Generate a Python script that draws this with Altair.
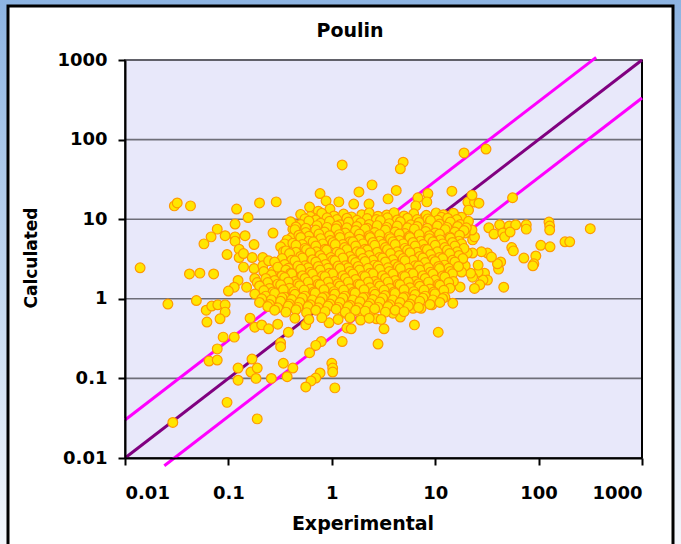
import altair as alt
import pandas as pd

# ---------------- data ----------------
upper_left = [(0.030,14.7),(0.032,16.0),(0.043,14.7),(0.12,13.4),(0.2,16.0),(0.29,16.5),(0.155,10.5),
    (0.116,8.7),(0.078,7.5),(0.068,6.0),(0.058,4.9),(0.093,6.2),(0.116,6.0),(0.116,5.3),(0.145,6.2),
    (0.27,6.7),(0.177,4.8),(0.097,3.6),(0.127,4.2),(0.127,3.3),(0.14,3.7),(0.17,3.3),(0.14,2.5),
    (0.177,2.4),(0.215,3.3),(0.215,2.6),(0.245,3.0),(0.27,2.2),(0.22,2.2),(0.3,2.8),(0.33,2.8),
    (0.014,2.45),(0.042,2.05),(0.053,2.1),(0.072,2.05),(0.124,1.7),(0.114,1.4),(0.1,1.25),(0.15,1.4),
    (0.18,1.8),(0.19,1.6),(0.215,1.5),(0.33,1.9),(0.41,1.9),(0.42,2.1),(0.3,1.35),(0.34,1.2),
    (0.026,0.86),(0.049,0.95),(0.45,8.5),(0.42,7.5),(0.41,5.9),(0.37,5.5),(0.35,4.9),(0.32,4.5),
    (0.34,3.9),(0.46,4.5),(0.46,3.3)]

lower_left = [(0.061,0.72),(0.069,0.81),(0.079,0.84),(0.093,0.84),(0.093,0.68),(0.083,0.56),(0.062,0.51),
    (0.089,0.33),(0.114,0.33),(0.078,0.235),(0.065,0.165),(0.078,0.17),(0.029,0.028),(0.097,0.05),
    (0.19,0.031),(0.124,0.135),(0.124,0.095),(0.169,0.175),(0.165,0.12),(0.19,0.135),(0.185,0.1),
    (0.26,0.1),(0.34,0.155),(0.42,0.135),(0.37,0.105),(0.32,0.28),(0.32,0.25),(0.38,0.38),
    (0.162,0.57),(0.18,0.44),(0.21,0.47),(0.245,0.42),(0.30,0.48)]

lower_mid = [(3.2,0.42),(2.8,0.27),(10.7,0.38),(6.3,0.47),(9.3,0.84),(14.8,0.88),(1.26,0.29),(1.4,0.43),
    (1.54,0.42),(0.79,0.29),(0.7,0.26),(0.61,0.21),(0.77,0.117),(0.7,0.101),(0.63,0.093),(0.56,0.078),
    (1.0,0.155),(1.02,0.135),(1.02,0.12),(1.07,0.076),(2.7,0.56),(4.6,0.59),(3.9,0.66),(6.1,0.76),
    (7.3,0.76),(0.94,0.5),(0.56,0.47),(1.34,0.66),(1.87,0.66),(2.34,0.68),(2.0,0.6)]

upper_mid = [(1.26,48),(4.9,52),(4.6,43),(19,68),(31,76),(2.45,27),(1.83,22),(4.2,23),(3.5,18),(0.77,21),
    (0.88,17),(1.17,16.5),(0.96,13.4),(0.61,14.2),(0.74,12.6),(0.67,10.3),(1.63,15.5),(2.29,15.5),
    (8.5,21),(8.3,16.5),(6.8,18.6),(6.5,14.7),(7.9,10.6),(9.7,10.6),(13,10.6),(14.5,22.5),(17,10.6)]

right_side = [(56,18.6),(126,9.2),(128,8.2),(128,7.3),(316,7.6),(180,5.2),(200,5.2),(105,4.7),(129,4.5),
    (94,3.45),(72,3.25),(90,2.75),(88,2.6),(55,4.4),(57,4.0),(46,1.4),(43,2.9),(41,2.36),(40,2.75),
    (33,7.8),(37,6.5),(42,8.5),(52,8.2),(60,8.5),(76,8.5),(76,7.5),(45,6.7),(47,6.0),(53,6.9),
    (32,3.76),(35,3.35),(28,3.9),(23,3.76),(30,2.1),(32,1.72),(29,1.72),(26,2.17),(23,1.87),(22,2.1),
    (19.5,2.6),(18,2.17),(26,2.65),(20.4,3.76),(23,5.5),(24,6.0),(22.7,7.3),(20.4,8.9),(18,10.6),
    (20.7,16.4),(21,13),(24,16.4),(26.5,15.9),(22.7,20),(19.5,6.7),(17.4,1.41),(27,1.5),(24,1.35)]

core_10 = [(0.5,11.5),(0.62,10.8),(0.8,11.9),(1.05,11.0),(1.3,11.6),(1.55,10.7),(1.95,11.4),(2.3,12.0),
    (2.8,10.9),(3.4,11.3),(4.0,12.1),(5.0,11.0),(6.2,11.7),(8.2,11.2),(10.2,12.0),(12.0,11.4),(15.0,11.9),
    (11.5,10.6),
    (0.55,10.1),(0.7,9.8),(0.9,10.4),(1.12,9.9),(1.4,10.3),(1.75,9.7),(2.2,10.2),(2.7,9.9),(3.45,10.4),
    (4.3,9.8),(5.4,10.3),(6.7,9.9),(8.5,10.1),(10.6,9.7),(13.2,10.3),(16.2,9.9),
    (0.40,9.3),(0.5,8.6),(0.6,9.5),(0.78,8.9),(0.95,9.4),(1.2,8.5),(1.45,9.2),(1.9,9.0),(2.3,8.6),
    (2.95,9.6),(3.6,8.8),(4.6,9.3),(5.8,8.5),(7.0,9.1),(9.0,9.6),(11.0,8.7),(14.0,9.2),(17.5,8.6),(21.0,9.4),
    (0.45,8.0),(0.56,7.7),(0.72,8.3),(0.9,7.9),(1.12,8.2),(1.4,7.8),(1.75,8.1),(2.2,7.7),(2.75,8.3),
    (3.4,7.9),(4.3,8.2),(5.4,7.8),(6.7,8.1),(8.4,7.7),(10.5,8.2),(13.0,7.9),(16.5,8.1),(20,7.8)]

core_5 = [(0.44,7.4),(0.56,6.8),(0.7,7.3),(0.85,6.9),(1.1,7.6),(1.35,6.7),(1.7,7.2),(2.1,7.5),(2.6,6.8),
    (3.3,7.3),(4.1,6.9),(5.1,6.6),(6.3,7.5),(8.1,7.0),(10.0,6.7),(12.5,7.4),(15.5,6.9),(19.0,7.2),
    (0.48,6.3),(0.6,6.1),(0.75,6.5),(0.95,6.2),(1.18,6.4),(1.48,6.0),(1.85,6.5),(2.3,6.2),(2.9,6.4),
    (3.6,6.0),(4.5,6.5),(5.6,6.1),(7.0,6.4),(8.8,6.2),(11.0,6.5),(13.8,6.0),(17.2,6.3),
    (0.5,5.9),(0.6,5.3),(0.78,5.7),(0.97,5.4),(1.2,5.9),(1.5,5.2),(1.85,5.6),(2.35,5.9),(2.9,5.3),
    (3.7,5.7),(4.5,5.4),(5.7,5.9),(7.2,5.3),(8.8,5.7),(11.2,5.5),(14.0,5.8),(17.0,5.3),
    (0.42,5.0),(0.52,4.8),(0.66,5.2),(0.82,4.9),(1.03,5.1),(1.28,4.8),(1.6,5.2),(2.0,4.9),(2.5,5.1),
    (3.1,4.8),(3.9,5.2),(4.9,4.9),(6.1,5.1),(7.6,4.8),(9.5,5.2),(11.8,4.9),(14.7,5.1),(18,4.9),
    (0.45,4.7),(0.55,4.3),(0.7,4.6),(0.86,4.2),(1.08,4.8),(1.33,4.4),(1.7,4.6),(2.1,4.2),(2.6,4.7),
    (3.3,4.4),(4.1,4.8),(5.1,4.3),(6.4,4.6),(8.0,4.2),(10.0,4.7),(12.4,4.4),(15.5,4.6),(19.0,4.3)]

core_3 = [(0.36,4.0),(0.45,3.85),(0.57,4.15),(0.71,3.9),(0.89,4.1),(1.12,3.85),(1.4,4.15),(1.75,3.9),
    (2.2,4.1),(2.75,3.85),(3.45,4.15),(4.3,3.9),(5.4,4.1),(6.7,3.85),(8.4,4.15),(10.5,3.9),(13.1,4.1),(16.3,3.9),
    (0.39,3.7),(0.5,3.4),(0.62,3.8),(0.77,3.5),(0.98,3.3),(1.2,3.7),(1.5,3.4),(1.9,3.8),(2.3,3.5),
    (2.9,3.3),(3.7,3.7),(4.5,3.5),(5.7,3.8),(7.1,3.4),(9.0,3.6),(11.0,3.3),(13.8,3.7),(17.0,3.5),
    (0.33,3.2),(0.41,3.05),(0.52,3.25),(0.65,3.1),(0.81,3.2),(1.02,3.05),(1.28,3.25),(1.6,3.1),(2.0,3.2),
    (2.5,3.05),(3.1,3.25),(3.9,3.1),(4.9,3.2),(6.1,3.05),(7.6,3.25),(9.5,3.1),(11.8,3.2),(14.7,3.05),(18.5,3.2),
    (0.28,2.9),(0.35,2.7),(0.44,3.0),(0.55,2.6),(0.7,2.9),(0.87,2.7),(1.07,3.0),(1.35,2.6),(1.7,2.85),
    (2.1,2.95),(2.6,2.65),(3.3,2.9),(4.1,2.7),(5.1,3.0),(6.4,2.6),(8.0,2.85),(10.0,2.95),(12.3,2.65),
    (15.5,2.9),
    (0.3,2.5),(0.38,2.42),(0.47,2.58),(0.59,2.45),(0.74,2.55),(0.92,2.42),(1.15,2.58),(1.44,2.45),
    (1.8,2.55),(2.25,2.42),(2.8,2.58),(3.5,2.45),(4.4,2.55),(5.5,2.42),(6.9,2.58),(8.6,2.45),(10.8,2.55),
    (13.5,2.42),(16.8,2.55),
    (0.36,2.3),(0.4,2.1),(0.5,2.35),(0.62,2.15),(0.77,2.3),(0.95,2.1),(1.2,2.4),(1.5,2.2),(1.85,2.3),
    (2.35,2.1),(2.9,2.35),(3.6,2.2),(4.6,2.4),(5.7,2.1),(7.1,2.3),(9.0,2.15),(11.0,2.4),(14.0,2.2)]

core_1 = [(0.26,2.0),(0.33,1.93),(0.41,2.06),(0.52,1.95),(0.65,2.05),(0.81,1.93),(1.02,2.06),(1.28,1.95),
    (1.6,2.05),(2.0,1.93),(2.5,2.06),(3.1,1.95),(3.9,2.05),(4.9,1.93),(6.1,2.06),(7.6,1.95),(9.5,2.05),
    (11.8,1.93),(14.7,2.06),
    (0.23,1.8),(0.28,1.7),(0.35,1.85),(0.44,1.65),(0.55,1.8),(0.7,1.7),(0.86,1.9),(1.07,1.65),
    (1.35,1.8),(1.7,1.75),(2.1,1.9),(2.6,1.65),(3.3,1.8),(4.1,1.7),(5.1,1.9),(6.4,1.65),(8.0,1.8),
    (10.0,1.72),(12.4,1.88),(15.0,1.65),
    (0.24,1.6),(0.3,1.53),(0.38,1.63),(0.47,1.55),(0.59,1.62),(0.74,1.53),(0.92,1.63),(1.15,1.55),
    (1.44,1.62),(1.8,1.53),(2.25,1.63),(2.8,1.55),(3.5,1.62),(4.4,1.53),(5.5,1.63),(6.9,1.55),(8.6,1.62),
    (10.8,1.53),(13.5,1.6),
    (0.2,1.45),(0.25,1.35),(0.32,1.5),(0.39,1.36),(0.49,1.46),(0.62,1.33),(0.77,1.5),(0.96,1.38),
    (1.2,1.45),(1.5,1.34),(1.87,1.5),(2.34,1.38),(2.92,1.45),(3.65,1.35),(4.57,1.5),(5.7,1.38),
    (7.1,1.44),(8.9,1.33),(11.1,1.48),(13.9,1.36),
    (0.22,1.27),(0.27,1.22),(0.34,1.3),(0.43,1.23),(0.54,1.29),(0.67,1.22),(0.84,1.3),(1.05,1.23),
    (1.3,1.29),(1.63,1.22),(2.05,1.3),(2.55,1.23),(3.2,1.29),(4.0,1.22),(5.0,1.3),(6.2,1.23),(7.8,1.29),
    (9.7,1.22),(12.1,1.28),
    (0.18,1.15),(0.23,1.08),(0.28,1.17),(0.35,1.05),(0.44,1.14),(0.55,1.08),(0.69,1.18),(0.86,1.06),
    (1.07,1.15),(1.34,1.08),(1.68,1.18),(2.09,1.05),(2.62,1.14),(3.27,1.1),(4.08,1.17),(5.1,1.06),
    (6.4,1.13),(8.0,1.08),(9.95,1.16),(12.4,1.05)]

core_07 = [(0.21,1.0),(0.26,0.97),(0.33,1.03),(0.41,0.98),(0.52,1.02),(0.65,0.97),(0.81,1.03),(1.02,0.98),
    (1.28,1.02),(1.6,0.97),(2.0,1.03),(2.5,0.98),(3.1,1.02),(3.9,0.97),(4.9,1.03),(6.1,0.98),(7.6,1.02),
    (9.5,0.97),(11.8,1.01),
    (0.2,0.9),(0.25,0.85),(0.32,0.93),(0.39,0.86),(0.49,0.9),(0.62,0.84),(0.77,0.92),(0.96,0.86),
    (1.2,0.9),(1.5,0.83),(1.87,0.92),(2.34,0.87),(2.92,0.91),(3.65,0.84),(4.57,0.9),(5.7,0.86),
    (7.1,0.93),(8.9,0.85),(11.1,0.9),
    (0.24,0.8),(0.3,0.77),(0.38,0.81),(0.47,0.78),(0.59,0.8),(0.74,0.77),(0.92,0.81),(1.15,0.78),
    (1.44,0.8),(1.8,0.77),(2.25,0.81),(2.8,0.78),(3.5,0.8),(4.4,0.77),(5.5,0.81),(6.9,0.78),
    (0.28,0.72),(0.36,0.68),(0.45,0.73),(0.57,0.67),(0.7,0.72),(0.86,0.69),(1.1,0.74),(1.35,0.68),
    (1.7,0.72),(2.1,0.7),(2.6,0.75),(3.3,0.68),(4.1,0.72),(5.0,0.69),
    (0.44,0.57),(0.6,0.55),(0.8,0.58),(1.15,0.55),(1.5,0.58),(1.9,0.54),(2.3,0.57),(3.0,0.55)]

# reference lines: y = x, y = 3x, y = x/3
line_equal = [(0.01, 0.01), (1000, 1000)]
line_upper = [(0.01, 0.03), (360, 1080)]
line_lower = [(0.024, 0.008), (1000, 333.3)]

grid_values = [0.1, 1, 10, 100, 1000]
tick_values = [0.01, 0.1, 1, 10, 100, 1000]

# ---------------- build ----------------
groups = [upper_left, lower_left, lower_mid, upper_mid, right_side, core_10, core_5, core_3, core_1, core_07]
pts = pd.DataFrame([p for g in groups for p in g], columns=["Experimental", "Calculated"])

lines = pd.DataFrame(
    [(x, y, "equal") for x, y in line_equal]
    + [(x, y, "upper") for x, y in line_upper]
    + [(x, y, "lower") for x, y in line_lower],
    columns=["Experimental", "Calculated", "name"])

grid_df = pd.DataFrame({"Calculated": grid_values})

W, H = 517, 398
FONT = "DejaVu Sans"

xs = alt.Scale(type="log", domain=[0.01, 1000], nice=False)
ys = alt.Scale(type="log", domain=[0.01, 1000], nice=False)
one = pd.DataFrame({"a": [0]})

axis_common = dict(values=tick_values, format="~g", grid=False, domainColor="black", domainWidth=2,
                   tickColor="black", tickWidth=2, tickSize=7, labelFont=FONT, labelFontWeight="bold",
                   labelFontSize=18, labelColor="black", title=None, zindex=1)
x_axis = alt.Axis(labelPadding=19, **axis_common)
y_axis = alt.Axis(labelPadding=11, **axis_common)

X = alt.X("Experimental:Q", scale=xs, axis=x_axis)
Y = alt.Y("Calculated:Q", scale=ys, axis=y_axis)

bg = alt.Chart(one).mark_rect(
    fill=alt.Gradient(gradient="linear",
                      stops=[alt.GradientStop(color="#8DB4E2", offset=0),
                             alt.GradientStop(color="#F4F7FC", offset=1)],
                      x1=0, x2=0, y1=0, y2=1)
).encode(x=alt.value(-125), x2=alt.value(W + 39), y=alt.value(-60), y2=alt.value(H + 86))

panel = alt.Chart(one).mark_rect(fill="white", stroke="black", strokeWidth=3).encode(
    x=alt.value(-117), x2=alt.value(548), y=alt.value(-54), y2=alt.value(H + 120))

plotbg = alt.Chart(one).mark_rect(fill="#E8E8FA", stroke="black", strokeWidth=1.5).encode(
    x=alt.value(0), x2=alt.value(W), y=alt.value(0), y2=alt.value(H))

grid = alt.Chart(grid_df).mark_rule(color="#6E6E78", strokeWidth=1.6).encode(y=Y)

right_edge = alt.Chart(one).mark_rule(color="black", strokeWidth=2).encode(
    x=alt.value(W), y=alt.value(0), y2=alt.value(H))

ref = alt.Chart(lines).mark_line(strokeWidth=3).encode(
    x=X, y=Y,
    detail="name:N",
    color=alt.Color("name:N", scale=alt.Scale(domain=["equal", "upper", "lower"],
                                              range=["#800080", "#FF00FF", "#FF00FF"]), legend=None))

points = alt.Chart(pts).mark_circle(size=95, fill="#FFE600", stroke="#FF9A00", strokeWidth=1.2,
                                    opacity=1).encode(x=X, y=Y)

title = alt.Chart(one).mark_text(text="Poulin", font=FONT, fontWeight="bold", fontSize=19,
                                 color="black", baseline="middle").encode(
    x=alt.value(225), y=alt.value(-29))
xtitle = alt.Chart(one).mark_text(text="Experimental", font=FONT, fontWeight="bold", fontSize=19,
                                  color="black", baseline="middle").encode(
    x=alt.value(238), y=alt.value(H + 66))
ytitle = alt.Chart(one).mark_text(text="Calculated", font=FONT, fontWeight="bold", fontSize=17,
                                  color="black", baseline="middle", angle=270).encode(
    x=alt.value(-93), y=alt.value(198))

chart = alt.layer(bg, panel, plotbg, grid, right_edge, ref, points, title, xtitle, ytitle).properties(
    width=W, height=H,
    autosize=alt.AutoSizeParams(type="none"),
    padding={"left": 125, "top": 60, "right": 39, "bottom": 86},
).configure_view(stroke=None)

chart.save("out.html", embed_options={"renderer": "svg", "actions": False})
